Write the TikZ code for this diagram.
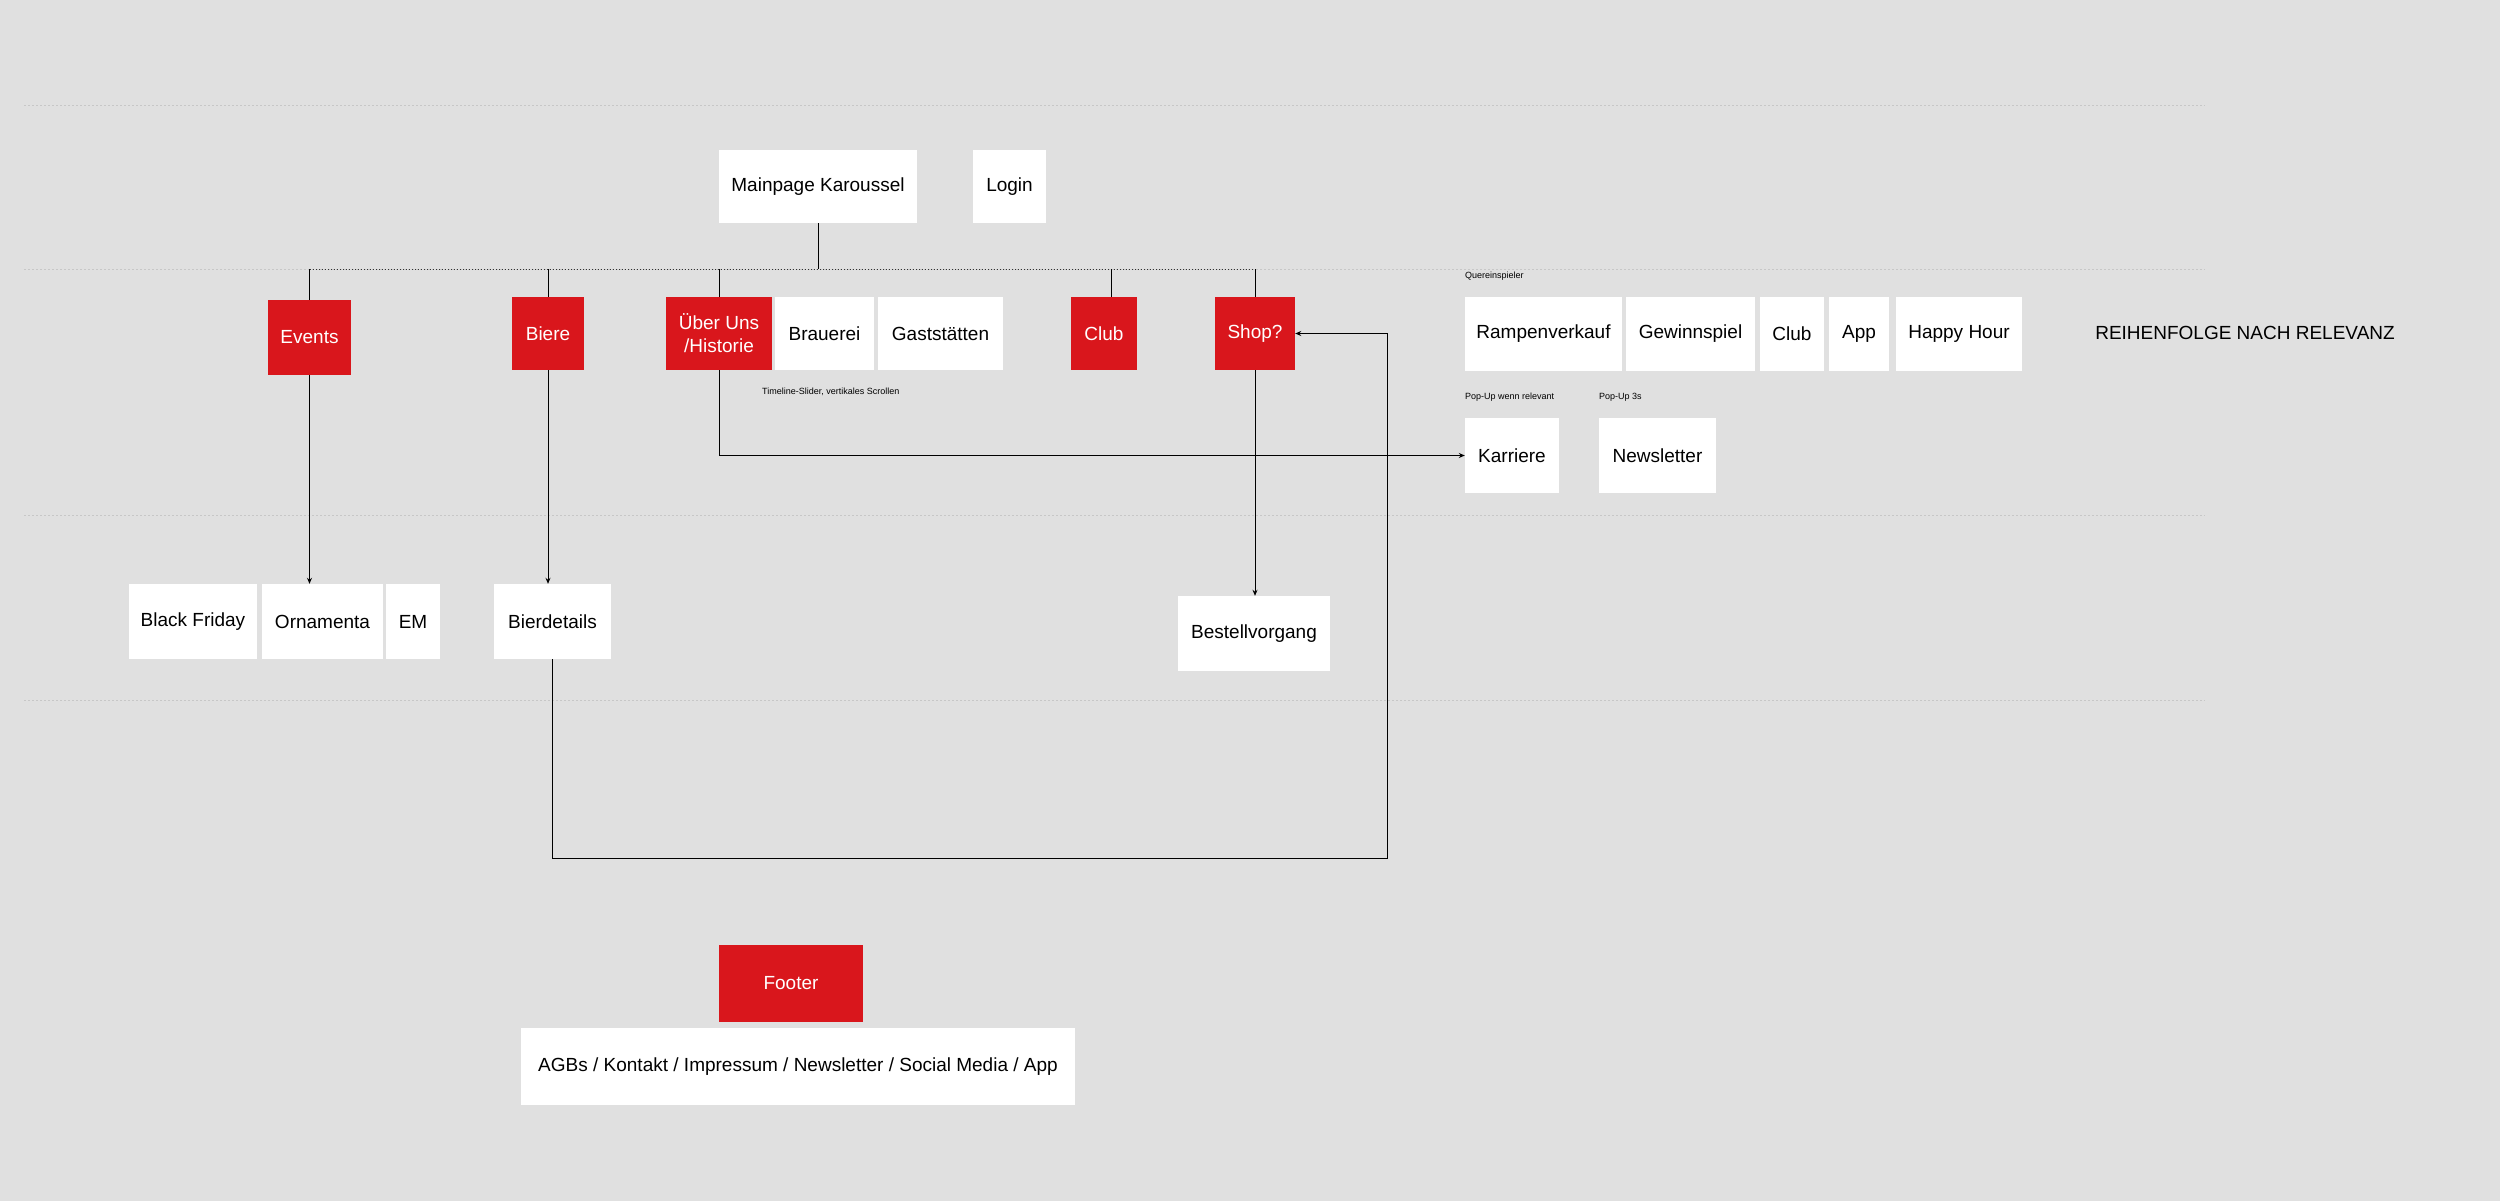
\documentclass[tikz,border=0pt]{standalone}
\usepackage{fontspec}
\setmainfont{Liberation Sans}
\usetikzlibrary{arrows.meta}
\definecolor{bg}{HTML}{E0E0E0}
\definecolor{rd}{HTML}{D9161C}
\begin{document}
\begin{tikzpicture}[x=1pt,y=-1pt,
  wbox/.style={fill=white,draw=none,align=center,font=\fontsize{19}{23}\selectfont},
  rbox/.style={fill=rd,draw=none,text=white,align=center,font=\fontsize{19}{23}\selectfont},
  note/.style={font=\fontsize{9}{11}\selectfont,anchor=west,inner sep=0},
  guide/.style={draw=black!22,dash pattern=on 2pt off 2pt,line width=0.6pt},
  conn/.style={draw=black,line width=0.9pt},
  arr/.style={conn,-{Stealth[length=6pt,width=5pt]}}]
\fill[bg] (0,0) rectangle (2500,1201);
\useasboundingbox (0,0) rectangle (2500,1201);
\foreach \y in {105,269,515,700} \draw[guide] (24,\y) -- (2205,\y);
\newcommand{\bx}[6]{\node[#1,minimum width={#4-#3},minimum height={#6-#5},inner sep=0] (#2) at ({(#3+#4)/2},{(#5+#6)/2})}
\bx{wbox}{main}{719}{917}{150}{223} {Mainpage Karoussel};
\bx{wbox}{login}{973}{1046}{150}{223} {Login};
\bx{rbox}{events}{268}{351}{300}{375} {Events};
\bx{rbox}{biere}{512}{584}{297}{370} {Biere};
\bx{rbox}{ueber}{666}{772}{297}{370} {Über Uns\\/Historie};
\bx{wbox}{brauerei}{775}{874}{297}{370} {Brauerei};
\bx{wbox}{gast}{878}{1003}{297}{370} {Gaststätten};
\bx{rbox}{club}{1071}{1137}{297}{370} {Club};
\bx{rbox}{shop}{1215}{1295}{297}{370} {Shop?};
\bx{wbox}{ramp}{1465}{1622}{297}{371} {Rampenverkauf};
\bx{wbox}{gew}{1626}{1755}{297}{371} {Gewinnspiel};
\bx{wbox}{club2}{1760}{1824}{297}{371} {Club};
\bx{wbox}{app}{1829}{1889}{297}{371} {App};
\bx{wbox}{happy}{1896}{2022}{297}{371} {Happy Hour};
\bx{wbox}{karr}{1465}{1559}{418}{493} {Karriere};
\bx{wbox}{news}{1599}{1716}{418}{493} {Newsletter};
\bx{wbox}{bf}{129}{257}{584}{659} {Black Friday};
\bx{wbox}{orn}{262}{383}{584}{659} {Ornamenta};
\bx{wbox}{em}{386}{440}{584}{659} {EM};
\bx{wbox}{bier}{494}{611}{584}{659} {Bierdetails};
\bx{wbox}{best}{1178}{1330}{596}{671} {Bestellvorgang};
\bx{rbox}{footer}{719}{863}{945}{1022} {Footer};
\bx{wbox}{agb}{521}{1075}{1028}{1105} {AGBs / Kontakt / Impressum / Newsletter / Social Media / App};
\node[font=\fontsize{19}{23}\selectfont] (rel) at (2245,333) {REIHENFOLGE NACH RELEVANZ};
\node[note] (q) at (1465,276) {Quereinspieler};
\node[note] (p1) at (1465,397) {Pop-Up wenn relevant};
\node[note] (p2) at (1599,397) {Pop-Up 3s};
\node[note] (tl) at (762,392) {Timeline-Slider, vertikales Scrollen};
% tree
\coordinate (bar) at (0,269);
\draw[conn] (main.south) -- (main.south |- bar);
\draw[draw=black!80,line width=0.8pt,dash pattern=on 1.5pt off 1.5pt] (events.north |- bar) -- (shop.north |- bar);
\foreach \n/\x in {events/309,biere/548,ueber/719,club/1111,shop/1255}
  \draw[conn] (\x,269) -- (\x,0 |- \n.north);
\draw[arr] (events.south) -- (events.south |- orn.north);
\draw[arr] (biere.south) -- (biere.south |- bier.north);
\draw[arr] (shop.south) -- (shop.south |- best.north);
\draw[arr] (719,370) |- (karr.west);
\coordinate (c1) at (552,858);
\coordinate (c2) at (1387,858);
\draw[arr] (552,659) -- (c1) -- (c2) |- (shop.east);
\end{tikzpicture}
\end{document}
